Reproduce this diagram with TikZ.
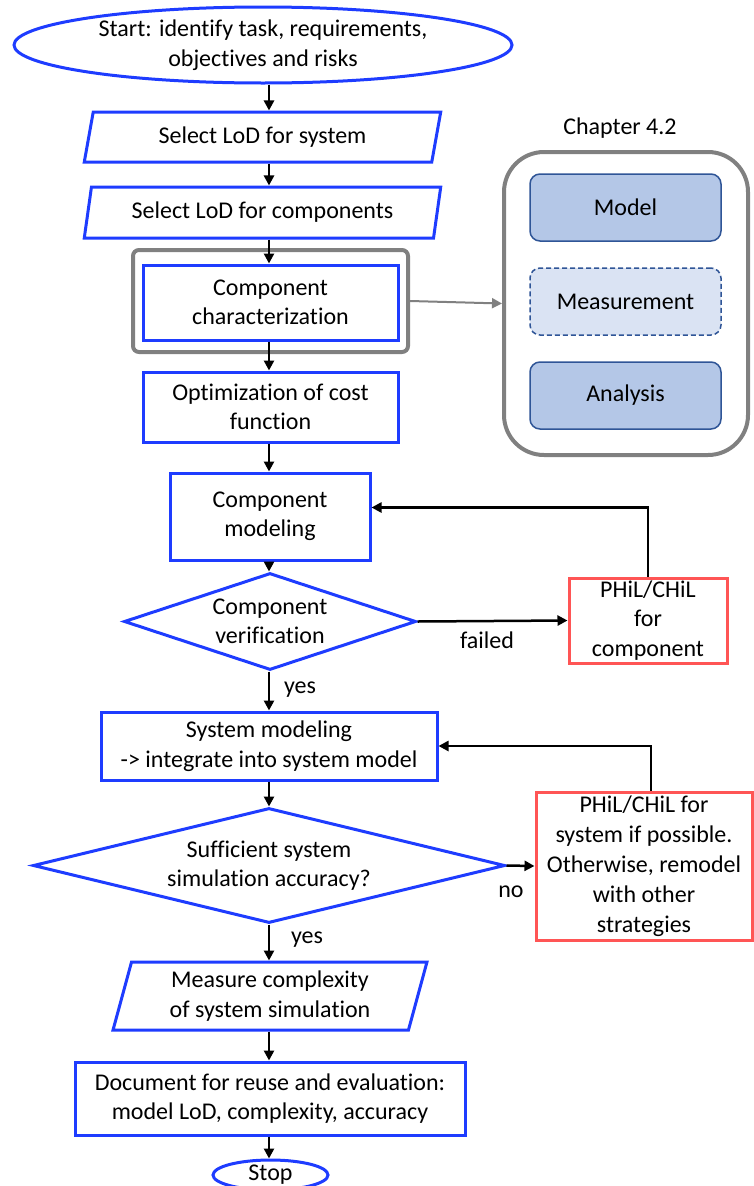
\documentclass[tikz,border=0pt]{standalone}
\usepackage{fontspec}
\setmainfont{Carlito}[Ligatures=NoCommon]
\usetikzlibrary{shapes.geometric,arrows.meta,calc}
\definecolor{flowblue}{RGB}{30,60,255}
\definecolor{flowred}{RGB}{255,85,85}
\definecolor{framegray}{RGB}{128,128,128}
\definecolor{chapfill}{RGB}{180,199,231}
\definecolor{chaplight}{RGB}{218,227,243}
\definecolor{chapedge}{RGB}{47,85,151}
\begin{document}
\begin{tikzpicture}[x=1pt,y=-1pt,
  font=\fontsize{24}{29.5}\selectfont,
  every node/.style={align=center, inner sep=0pt},
  proc/.style={draw=flowblue, line width=3pt, rectangle, fill=white},
  terminal/.style={draw=flowblue, line width=3pt, ellipse, fill=white},
  io/.style={draw=flowblue, line width=3pt, trapezium, trapezium left angle=75,
    trapezium right angle=105, trapezium stretches=true, fill=white},
  decision/.style={draw=flowblue, line width=3pt, diamond, fill=white},
  alt/.style={draw=flowred, line width=3pt, rectangle, fill=white},
  frame/.style={draw=framegray, line width=4pt, rounded corners=6pt, rectangle},
  chapframe/.style={draw=framegray, line width=4pt, rounded corners=40pt, rectangle},
  part/.style={draw=chapedge, line width=1.5pt, rounded corners=10pt, fill=chapfill,
    minimum width=191pt, minimum height=67pt},
  arr/.style={line width=2.5pt, -{Triangle[length=10pt,width=10pt]}},
  grayarr/.style={draw=framegray, line width=2pt, -{Triangle[length=10pt,width=10pt]}}
]
\useasboundingbox (0,0) rectangle (754,1186);
\coordinate (ax) at (269,0);

% main flow
\node[terminal, minimum width=498pt, minimum height=76pt] (start) at (263,45)
  {Start: identify task, requirements,\\objectives and risks};
\node[io, minimum width=357pt, minimum height=50pt] (lodsys) at (262.5,137)
  {Select LoD for system};
\node[io, minimum width=357pt, minimum height=51pt] (lodcomp) at (262.5,212.5)
  {Select LoD for components};
\node[frame, minimum width=275pt, minimum height=102pt] (charframe) at (270.5,301) {};
\node[proc, minimum width=255pt, minimum height=75pt] (char) at (270.5,302.5)
  {Component\\characterization};
\node[proc, minimum width=255pt, minimum height=70pt] (opt) at (270.5,407)
  {Optimization of cost\\function};
\node[proc, minimum width=200pt, minimum height=87pt] (cmod) at (270,516.5)
  {Component\\modeling};
\node[decision, aspect=3, minimum width=292pt, minimum height=97pt] (cver) at (270,621.5)
  {Component\\verification};
\node[alt, minimum width=158pt, minimum height=85pt] (hilc) at (648,620.5)
  {PHiL/CHiL\\for\\component};
\node[proc, minimum width=336pt, minimum height=68pt] (smod) at (269,746)
  {System modeling\\-> integrate into system model};
\node[decision, aspect=4, minimum width=472pt, minimum height=115pt] (sacc) at (269,865.5)
  {Sufficient system\\simulation accuracy?};
\node[alt, minimum width=216pt, minimum height=148pt, font=\fontsize{24}{30}\selectfont] (hils) at (644,866)
  {PHiL/CHiL for\\system if possible.\\Otherwise, remodel\\with other\\strategies};
\node[io, minimum width=314pt, minimum height=68pt] (meas) at (270,996)
  {Measure complexity\\of system simulation};
\node[proc, minimum width=390pt, minimum height=73pt] (doc) at (270,1098.5)
  {Document for reuse and evaluation:\\model LoD, complexity, accuracy};
\node[terminal, minimum width=115pt, minimum height=30pt] (stop) at (270.5,1175) {Stop};

% chapter 4.2 panel
\node[chapframe, minimum width=244pt, minimum height=303pt] (chap) at (626,303.5) {};
\node (chaptitle) at (620,128) {Chapter 4.2};
\node[part] (model) at (625.5,207.5) {Model};
\node[part, fill=chaplight, dash pattern=on 5pt off 3pt] (msr) at (625.5,301.5) {Measurement};
\node[part] (anal) at (625.5,395.5) {Analysis};

% edge labels
\node (lfailed) at (487,640) {failed};
\node (lyes1) at (300,690) {yes};
\node (lno) at (511,892) {no};
\node (lyes2) at (307,940) {yes};

% connectors
\draw[arr] (start.south -| ax) -- (lodsys.north -| ax);
\draw[arr] (lodsys.south -| ax) -- (lodcomp.north -| ax);
\draw[arr] (lodcomp.south -| ax) -- (char.north -| ax);
\draw[arr] (char.south -| ax) -- (opt.north -| ax);
\draw[arr] (opt.south -| ax) -- (cmod.north -| ax);
\draw[arr] (cmod.south -| ax) -- (cver.north -| ax);
\draw[arr] (cver.east) -- (hilc.west);
\draw[arr] (hilc.north) |- ([yshift=9pt]cmod.east);
\draw[arr] (cver.south -| ax) -- (smod.north -| ax);
\draw[arr] (smod.south -| ax) -- (sacc.north -| ax);
\draw[arr] (sacc.east) -- (hils.west);
\draw[arr] ([xshift=7pt]hils.north) |- (smod.east);
\draw[arr] (sacc.south -| ax) -- (meas.north -| ax);
\draw[arr] (meas.south -| ax) -- (doc.north -| ax);
\draw[arr] (doc.south -| ax) -- (stop.north -| ax);
\draw[grayarr] (charframe.east) -- (chap.west);
\end{tikzpicture}
\end{document}
